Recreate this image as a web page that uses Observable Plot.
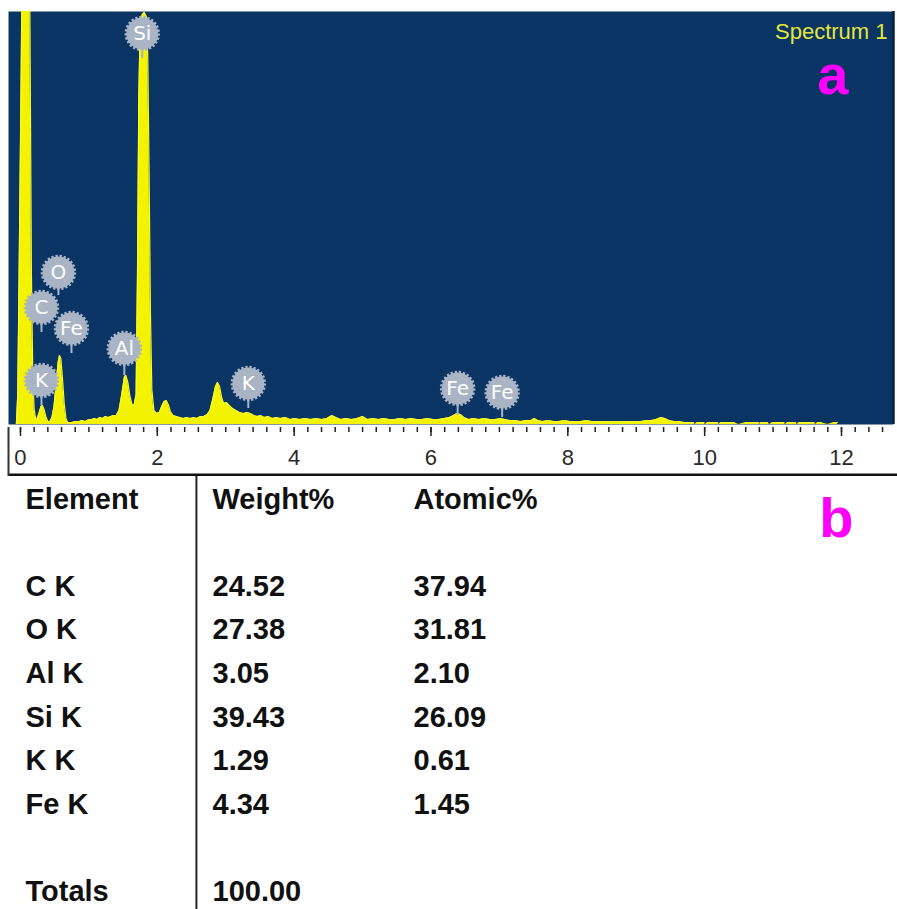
<!DOCTYPE html>
<html><head><meta charset="utf-8">
<script src="https://cdn.jsdelivr.net/npm/d3@7"></script>
<script src="https://cdn.jsdelivr.net/npm/@observablehq/plot@0.6"></script>
<style>
html,body{margin:0;padding:0;background:#fff;}
#chart{width:897px;height:909px;overflow:hidden;background:#fff;}
#chart svg{display:block;background:#fff;}
</style></head><body><div id="chart"></div>
<script>
// EDS spectrum: [energy keV, counts]; null = no signal drawn
const spectrum = [
[-0.175,0],[-0.06,0],[-0.04,300],[-0.02,1500],[0.01,3500],[0.03,5000],[0.13,5000],[0.16,1500],[0.18,500],[0.20,150],[0.225,50],
[0.245,60],[0.27,110],[0.30,180],[0.32,190],[0.345,150],[0.37,80],[0.40,30],[0.43,30],[0.46,70],[0.49,180],
[0.52,400],[0.55,620],[0.57,690],[0.59,660],[0.615,450],[0.64,200],[0.665,60],[0.69,20],[0.75,20],[0.80,30],
[0.86,30],[0.90,40],[0.95,30],[1.0,50],[1.04,50],[1.08,60],[1.12,50],[1.16,70],[1.2,60],[1.24,80],
[1.28,70],[1.32,80],[1.36,90],[1.40,90],[1.44,140],[1.48,300],[1.52,480],[1.54,490],[1.57,420],[1.60,280],
[1.63,200],[1.66,190],[1.69,300],[1.71,1500],[1.73,3300],[1.75,4000],[1.78,4100],[1.81,4120],[1.84,4080],[1.86,3700],
[1.88,2500],[1.90,1100],[1.92,350],[1.95,140],[1.99,110],[2.03,120],[2.07,190],[2.10,230],[2.13,240],[2.16,200],
[2.19,130],[2.23,90],[2.28,80],[2.33,70],[2.38,60],[2.43,70],[2.48,60],[2.53,70],[2.58,60],[2.63,80],
[2.68,80],[2.73,100],[2.77,140],[2.81,250],[2.85,380],[2.88,420],[2.91,380],[2.94,270],[2.97,210],[3.01,220],
[3.05,190],[3.10,160],[3.15,140],[3.20,120],[3.26,110],[3.31,120],[3.36,110],[3.41,90],[3.46,80],[3.51,90],
[3.56,70],[3.62,80],[3.68,60],[3.74,70],[3.80,60],[3.87,70],[3.94,50],[4.01,60],[4.08,50],[4.16,60],
[4.24,50],[4.32,60],[4.40,50],[4.48,60],[4.55,90],[4.61,70],[4.68,50],[4.76,60],[4.84,50],[4.92,60],
[5.0,80],[5.07,50],[5.15,60],[5.23,50],[5.31,60],[5.39,50],[5.47,50],[5.55,60],[5.63,50],[5.71,60],
[5.79,50],[5.87,50],[5.95,60],[6.03,50],[6.11,50],[6.19,60],[6.27,70],[6.33,90],[6.38,110],[6.43,100],
[6.48,70],[6.55,50],[6.62,60],[6.70,50],[6.78,60],[6.86,50],[6.94,50],[7.02,60],[7.08,50],[7.15,40],
[7.23,40],[7.31,30],[7.39,40],[7.46,40],[7.51,60],[7.56,40],[7.63,30],[7.71,40],[7.79,30],[7.87,30],
[7.95,40],[8.03,30],[8.11,30],[8.19,30],[8.27,40],[8.35,30],[8.43,30],[8.51,30],[8.59,30],[8.67,30],
[8.75,30],[8.83,30],[8.91,30],[8.99,30],[9.07,30],[9.15,40],[9.22,40],[9.29,50],[9.36,70],[9.42,60],
[9.48,40],[9.55,30],[9.62,30],[9.70,20],[9.84,20],[9.86,null],[9.89,20],[9.99,20],[10.01,null],[10.04,20],
[10.19,20],[10.21,null],[10.23,20],[10.43,20],[10.5,null],[10.60,20],[10.79,20],[10.8,null],[10.82,20],[10.92,20],
[10.95,null],[10.99,20],[11.16,20],[11.18,null],[11.21,20],[11.33,20],[11.35,null],[11.38,20],[11.60,20],[11.62,null],
[11.65,20],[11.70,20],[11.8,null],[11.89,20],[11.94,20]
];

// peak identification markers
const peakElements = ["C","O","Fe","K","Al","Si","K","Fe","Fe"];
const peakLabelKeV = [0.307,0.555,0.745,0.307,1.518,1.78,3.33,6.39,7.04];
const peakLabelCounts = [1170,1520,960,440,760,3910,410,360,320];
const peakStemEndCounts = [920,1290,710,190,490,3660,160,90,70];

const majorTicks = [0,2,4,6,8,10,12];
const tickStep = 0.2;
const energyDomain = [-0.175, 12.76];
const countsDomain = [0, 4130];

// quantification table
const tableHeaders = ["Element","Weight%","Atomic%"];
const tableElements = ["C K","O K","Al K","Si K","K K","Fe K"];
const weightPct = ["24.52","27.38","3.05","39.43","1.29","4.34"];
const atomicPct = ["37.94","31.81","2.10","26.09","0.61","1.45"];
const totalsLabel = "Totals";
const totalWeight = "100.00";

const panelBlue = "#0a3464";
const specYellow = "#f3f300";
const markerGray = "#a9b4c5";

const labels = peakElements.map((el,i)=>({el, x: peakLabelKeV[i], y: peakLabelCounts[i], y2: peakStemEndCounts[i]}));
const minorTicks = d3.range(0, 12.75, tickStep).map(v=>+v.toFixed(2));

const spec = Plot.plot({
  width: 897, height: 476,
  marginLeft: 8, marginRight: 4, marginTop: 11, marginBottom: 52,
  style: {background: "#fff", fontFamily: "Liberation Sans, Arial, sans-serif"},
  x: {domain: energyDomain, label: null},
  y: {domain: countsDomain, axis: null},
  marks: [
    Plot.frame({fill: panelBlue, stroke: null}),
    Plot.areaY(spectrum, {x: d=>d[0], y: d=>d[1], fill: specYellow, clip: true}),
    Plot.lineY(spectrum, {x: d=>d[0], y: d=>d[1], stroke: "#f8f830", strokeWidth: 1.2, clip: true}),
    Plot.ruleX(labels, {x: "x", y1: "y", y2: "y2", stroke: markerGray, strokeWidth: 2}),
    Plot.dot(labels, {x: "x", y: "y", r: 16, fill: markerGray, stroke: markerGray, strokeWidth: 3.5, strokeDasharray: "2.2,1.8"}),
    Plot.text(labels, {x: "x", y: "y", text: "el", fill: "#ffffff", fontSize: 20, fontFamily: "DejaVu Sans, Verdana, sans-serif"}),
    Plot.ruleX([energyDomain[1]], {y1: 0, y2: countsDomain[1], stroke: "#06203f", strokeWidth: 2.5}),
    Plot.axisX({ticks: minorTicks, tickSize: 5, dy: 3, stroke: "#222", strokeWidth: 1.5, text: null, label: null}),
    Plot.axisX({ticks: majorTicks, tickSize: 9, dy: 3, stroke: "#222", strokeWidth: 1.5, text: null, label: null}),
    Plot.axisX({ticks: majorTicks, tickSize: 0, tickPadding: 25, fontSize: 22, fill: "#2a2a2a", tickFormat: d=>String(d), label: null}),
    Plot.ruleY([-505], {x1: energyDomain[0], x2: 12.83, stroke: "#111", strokeWidth: 3}),
    Plot.ruleX([energyDomain[0]], {y1: -30, y2: -520, stroke: "#333", strokeWidth: 2}),
    Plot.text(["Spectrum 1"], {frameAnchor: "top-right", dx: -6, dy: 12, textAnchor: "end", fill: "#e2e63a", fontSize: 22, fontFamily: "Liberation Sans Narrow, Liberation Sans, Arial, sans-serif"}),
    Plot.text(["a"], {frameAnchor: "top-right", dx: -45, dy: 43, fill: "#ff00ff", fontSize: 56, fontWeight: "bold", fontFamily: "Liberation Sans, Arial, sans-serif"})
  ]
});

const rowOf = i => i + 2;
const cells = [];
tableHeaders.forEach((h,c)=>cells.push({col: c, row: 0, text: h}));
tableElements.forEach((e,i)=>{
  cells.push({col: 0, row: rowOf(i), text: e});
  cells.push({col: 1, row: rowOf(i), text: weightPct[i]});
  cells.push({col: 2, row: rowOf(i), text: atomicPct[i]});
});
cells.push({col: 0, row: 9, text: totalsLabel});
cells.push({col: 1, row: 9, text: totalWeight});

const textOpts = {x: "col", y: "row", text: "text", textAnchor: "start", fontSize: 29, fontWeight: "bold", fill: "#111", fontFamily: "Liberation Sans, Arial, sans-serif"};
const table = Plot.plot({
  width: 897, height: 433,
  margin: 0,
  style: {background: "#fff"},
  x: {domain: [0, 2], range: [25, 413], axis: null},
  y: {domain: [0, 9], range: [22.8, 415.2], axis: null},
  marks: [
    Plot.ruleX([0.881], {y1: -0.6, y2: 9.5, stroke: "#222", strokeWidth: 2}),
    Plot.text(cells.filter(d=>d.col!==1), textOpts),
    Plot.text(cells.filter(d=>d.col===1), {...textOpts, dx: -7}),
    Plot.text(["b"], {frameAnchor: "top-right", dx: -44, dy: 21, fill: "#ff00ff", fontSize: 56, fontWeight: "bold", fontFamily: "Liberation Sans, Arial, sans-serif"})
  ]
});

const chart = document.getElementById("chart");
chart.appendChild(spec);
chart.appendChild(table);
</script>
</body></html>
